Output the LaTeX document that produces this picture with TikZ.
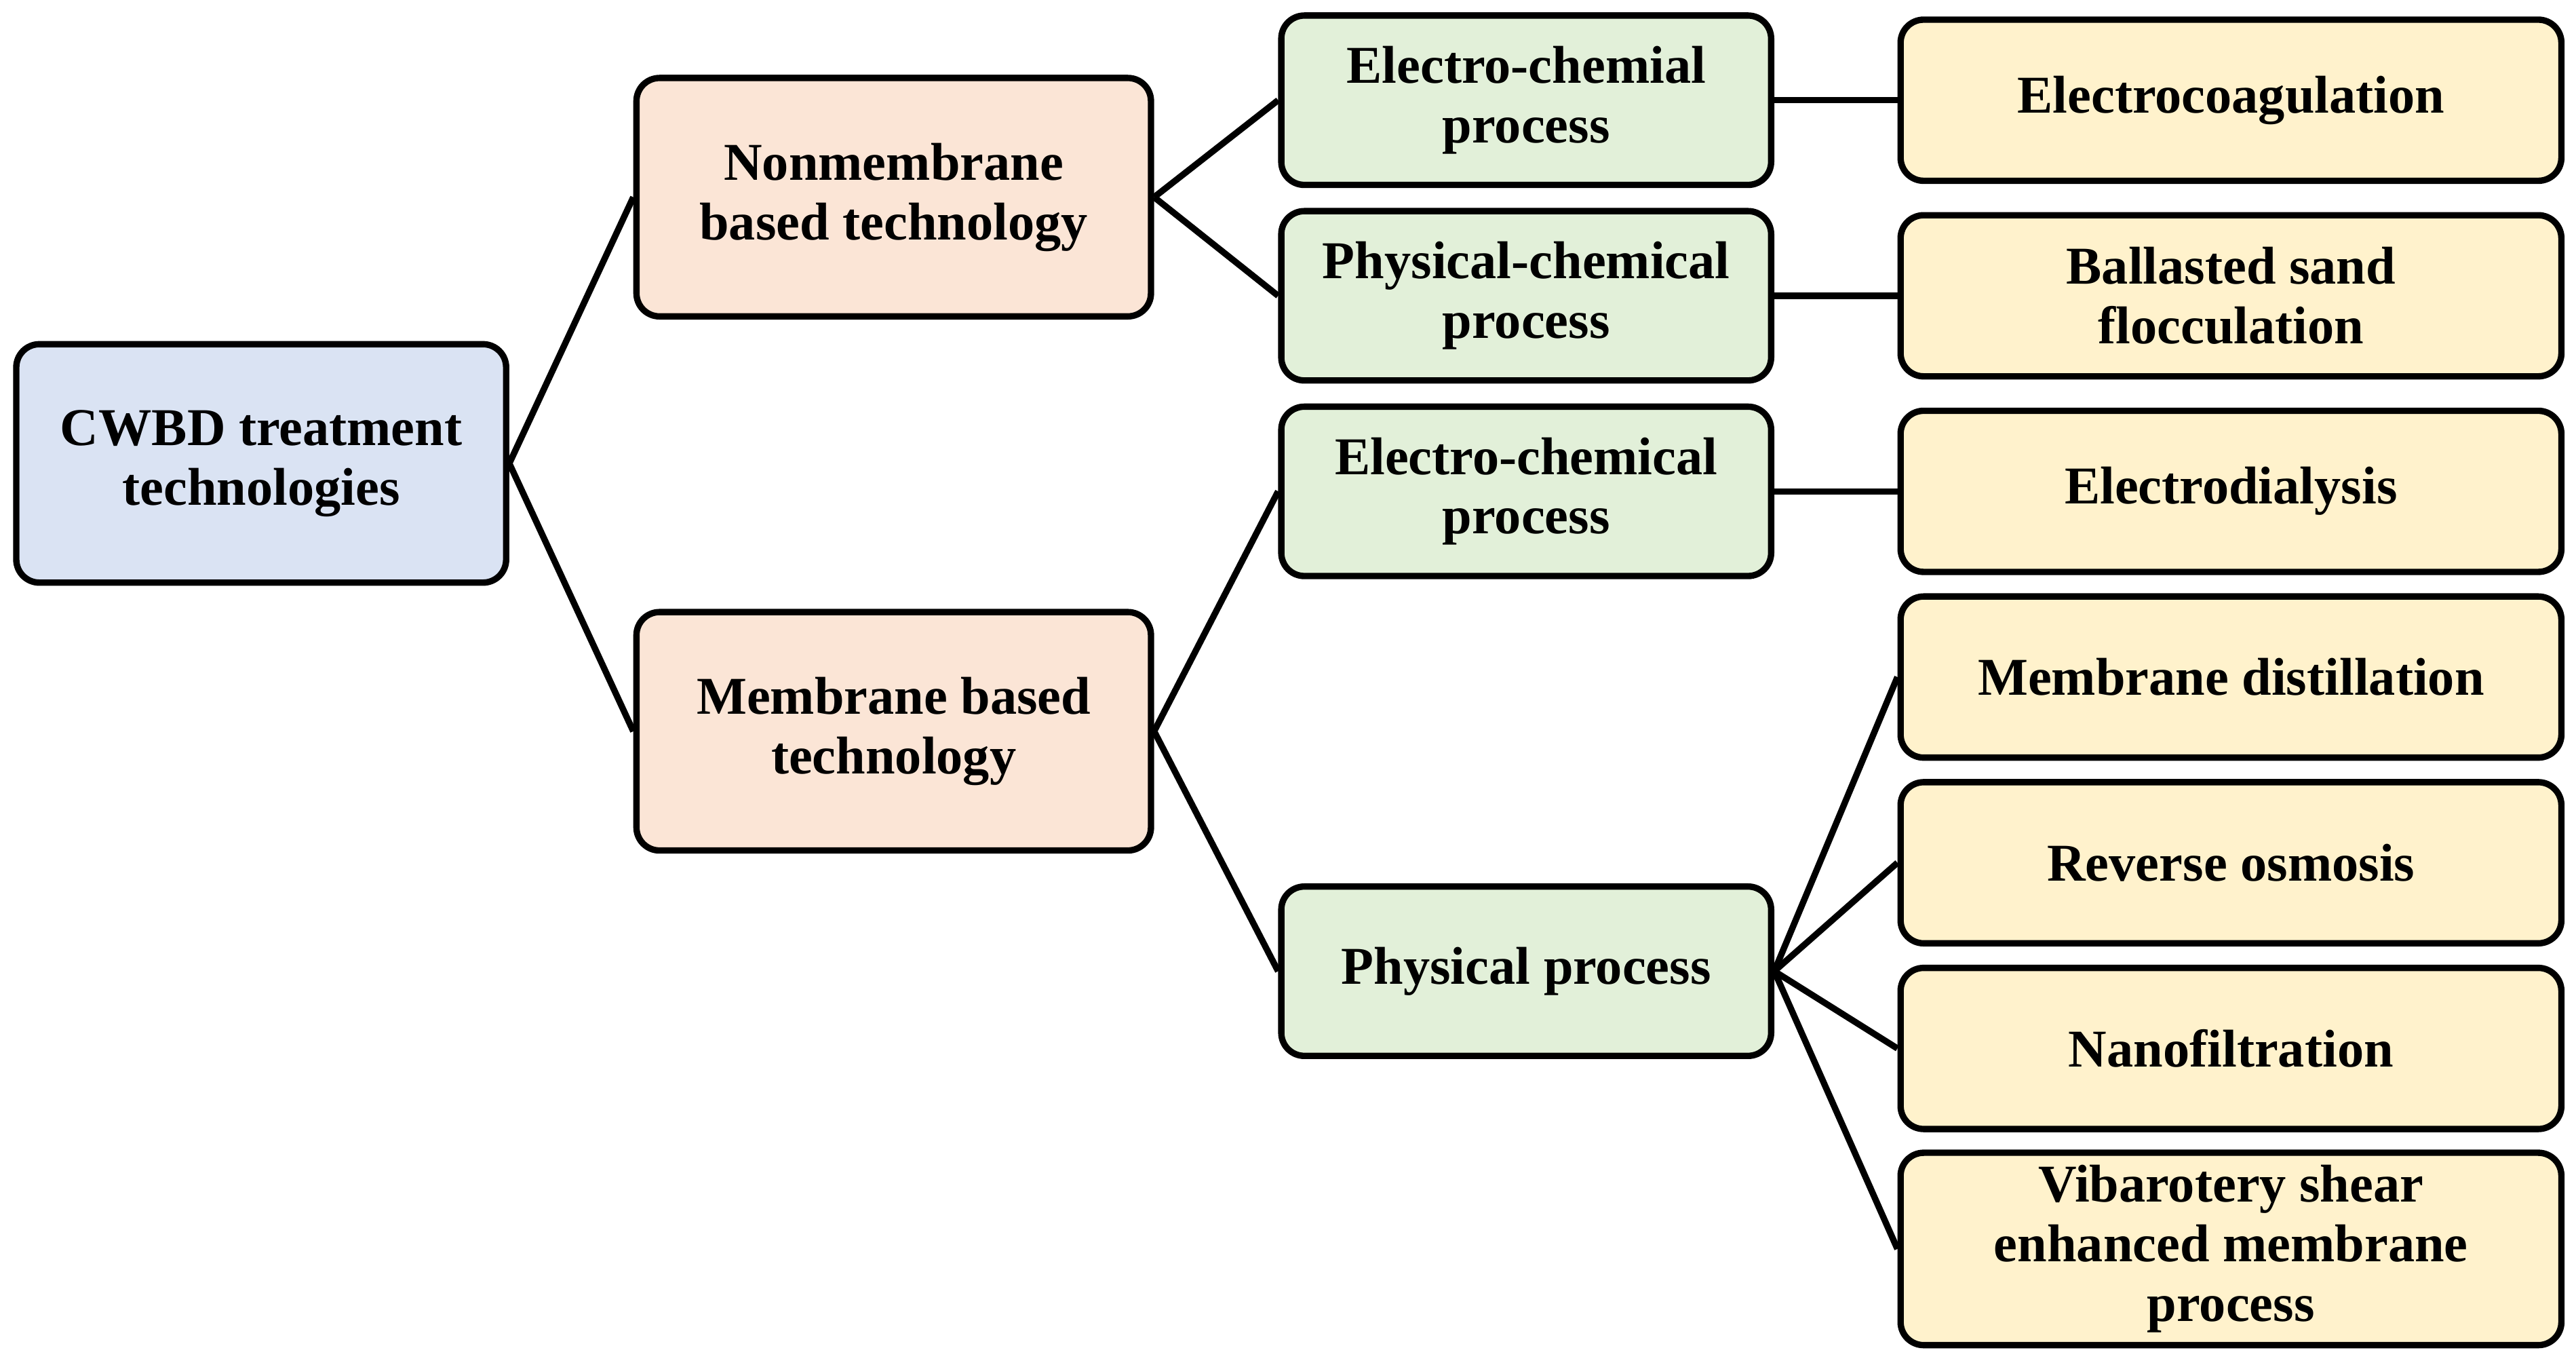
\documentclass[tikz,border=0pt]{standalone}
\usepackage{fontspec}
\setmainfont{Liberation Serif}
\usetikzlibrary{positioning}
\definecolor{rootblue}{HTML}{DAE3F3}
\definecolor{techpeach}{HTML}{FBE5D6}
\definecolor{procgreen}{HTML}{E2F0D9}
\definecolor{methyellow}{HTML}{FFF2CC}
\tikzset{
  box/.style={draw=black, line width=1.1pt, rounded corners=4pt, align=center,
    font=\fontsize{9.2}{10.3}\selectfont\bfseries, inner sep=1pt},
  root/.style={box, fill=rootblue, minimum width=2.98cm, minimum height=1.45cm},
  tech/.style={box, fill=techpeach, minimum width=3.13cm, minimum height=1.45cm},
  proc/.style={box, fill=procgreen, minimum width=2.98cm, minimum height=1.03cm},
  meth/.style={box, fill=methyellow, minimum width=4.02cm, minimum height=0.98cm},
  link/.style={line width=1.1pt}
}
\begin{document}
\begin{tikzpicture}[x=0.01cm,y=-0.01cm]
        \useasboundingbox (0,0) rectangle (1568,828);
        % Root
        \node[root] (cwbd) at (159,282) {CWBD treatment\\technologies};
        % Technologies
        \node[tech] (nonmem) at (544,120) {Nonmembrane\\based technology};
        \node[tech] (mem) at (544,445) {Membrane based\\technology};
        % Processes
        \node[proc] (echemA) at (929,61) {Electro-chemial\\process};
        \node[proc] (physchem) at (929,180) {Physical-chemical\\process};
        \node[proc] (echemB) at (929,299) {Electro-chemical\\process};
        \node[proc] (phys) at (929,591) {Physical process};
        % Methods
        \node[meth] (ecoag) at (1358,61) {Electrocoagulation};
        \node[meth] (ballast) at (1358,180) {Ballasted sand\\flocculation};
        \node[meth] (edial) at (1358,299) {Electrodialysis};
        \node[meth] (mdist) at (1358,412) {Membrane distillation};
        \node[meth] (ro) at (1358,525) {Reverse osmosis};
        \node[meth] (nf) at (1358,638) {Nanofiltration};
        \node[meth, minimum height=1.17cm] (vsep) at (1358,760) {Vibarotery shear\\enhanced membrane\\process};
        % Connectors
        \draw[link] (cwbd.east) -- (nonmem.west);
        \draw[link] (cwbd.east) -- (mem.west);
        \draw[link] (nonmem.east) -- (echemA.west);
        \draw[link] (nonmem.east) -- (physchem.west);
        \draw[link] (mem.east) -- (echemB.west);
        \draw[link] (mem.east) -- (phys.west);
        \draw[link] (echemA.east) -- (ecoag.west);
        \draw[link] (physchem.east) -- (ballast.west);
        \draw[link] (echemB.east) -- (edial.west);
        \foreach \m in {mdist,ro,nf,vsep}
          \draw[link] (phys.east) -- (\m.west);
\end{tikzpicture}
\end{document}
